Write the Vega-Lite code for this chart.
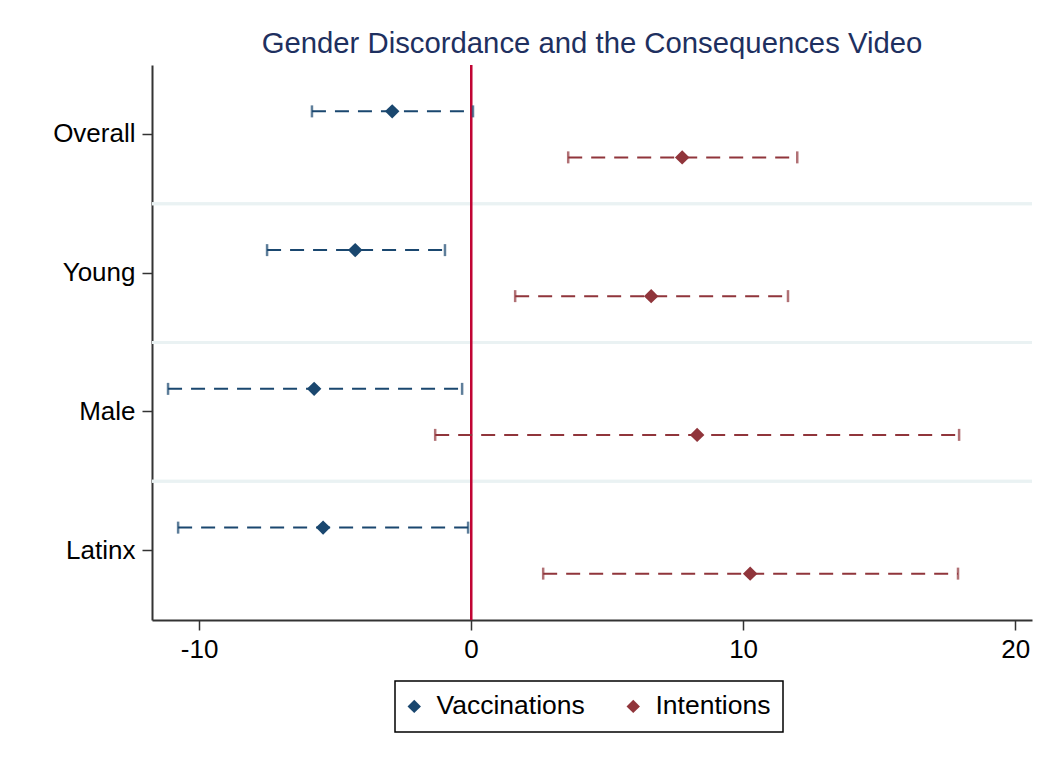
{
  "$schema": "https://vega.github.io/schema/vega-lite/v6.json",
  "autosize": {"type": "none"},
  "padding": {"left": 152, "top": 65, "right": 27, "bottom": 148},
  "width": 880,
  "height": 555,
  "background": "white",
  "title": {
    "text": "Gender Discordance and the Consequences Video",
    "color": "#1e3060",
    "fontSize": 29.3,
    "fontWeight": "normal",
    "font": "Liberation Sans",
    "anchor": "middle",
    "baseline": "bottom",
    "offset": 6,
    "dy": 30
  },
  "config": {
    "view": {"stroke": null},
    "font": "Liberation Sans"
  },
  "data": {
    "values": [
      {"group": "Overall", "series": "Vaccinations", "est": -2.9, "lo": -5.85, "hi": 0.07},
      {"group": "Overall", "series": "Intentions", "est": 7.76, "lo": 3.57, "hi": 11.99},
      {"group": "Young", "series": "Vaccinations", "est": -4.26, "lo": -7.5, "hi": -0.96},
      {"group": "Young", "series": "Intentions", "est": 6.62, "lo": 1.62, "hi": 11.65},
      {"group": "Male", "series": "Vaccinations", "est": -5.77, "lo": -11.14, "hi": -0.33},
      {"group": "Male", "series": "Intentions", "est": 8.31, "lo": -1.32, "hi": 17.94},
      {"group": "Latinx", "series": "Vaccinations", "est": -5.44, "lo": -10.77, "hi": -0.11},
      {"group": "Latinx", "series": "Intentions", "est": 10.26, "lo": 2.65, "hi": 17.9}
    ]
  },
  "encoding": {
    "y": {
      "field": "group",
      "type": "nominal",
      "sort": ["Overall", "Young", "Male", "Latinx"],
      "scale": {"paddingInner": 0, "paddingOuter": 0},
      "axis": {
        "title": null,
        "labelFontSize": 26,
        "labelColor": "black",
        "labelPadding": 7,
        "tickSize": 10,
        "tickColor": "#333333",
        "tickWidth": 1.5,
        "domainColor": "#333333",
        "domainWidth": 2,
        "grid": false
      }
    }
  },
  "layer": [
    {
      "transform": [{"filter": "datum.group !== 'Overall'"}],
      "mark": {"type": "rule", "color": "#eaf2f3", "strokeWidth": 3},
      "encoding": {
        "y": {"field": "group", "type": "nominal", "sort": ["Overall", "Young", "Male", "Latinx"], "bandPosition": 0}
      }
    },
    {
      "mark": {"type": "rule", "color": "#c10534", "strokeWidth": 2},
      "encoding": {
        "x": {"datum": 0, "type": "quantitative"},
        "y": null
      }
    },
    {
      "mark": {"type": "rule", "strokeWidth": 2, "strokeDash": [14, 9]},
      "encoding": {
        "x": {
          "field": "lo",
          "type": "quantitative",
          "scale": {"domain": [-11.73, 20.62], "nice": false, "zero": false},
          "axis": {
            "title": null,
            "values": [-10, 0, 10, 20],
            "labelExpr": "'' + datum.value",
            "labelFontSize": 26,
            "labelColor": "black",
            "labelPadding": 6,
            "tickSize": 10,
            "tickColor": "#333333",
            "tickWidth": 1.5,
            "domainColor": "#333333",
            "domainWidth": 2,
            "grid": false
          }
        },
        "x2": {"field": "hi"},
        "yOffset": {"field": "series", "type": "nominal", "sort": ["Vaccinations", "Intentions"], "scale": {"paddingOuter": 0.508, "paddingInner": 0}},
        "color": {"field": "series", "type": "nominal"}
      }
    },
    {
      "transform": [{"fold": ["lo", "hi"], "as": ["end", "val"]}],
      "mark": {"type": "tick", "orient": "vertical", "size": 12, "thickness": 2.5},
      "encoding": {
        "x": {"field": "val", "type": "quantitative"},
        "yOffset": {"field": "series", "type": "nominal", "sort": ["Vaccinations", "Intentions"]},
        "color": {"field": "series", "type": "nominal"}
      }
    },
    {
      "mark": {"type": "point", "shape": "diamond", "filled": true, "size": 210, "opacity": 1},
      "encoding": {
        "x": {"field": "est", "type": "quantitative"},
        "yOffset": {"field": "series", "type": "nominal", "sort": ["Vaccinations", "Intentions"]},
        "color": {
          "field": "series",
          "type": "nominal",
          "scale": {"domain": ["Vaccinations", "Intentions"], "range": ["#1a476f", "#90353b"]},
          "legend": {
            "title": null,
            "orient": "none",
            "legendX": 243,
            "legendY": 616,
            "direction": "horizontal",
            "strokeColor": "black",
            "padding": 12,
            "symbolType": "diamond",
            "symbolSize": 180,
            "symbolOffset": -6,
            "symbolStrokeWidth": 0,
            "symbolOpacity": 1,
            "labelFontSize": 26.5,
            "labelColor": "black",
            "labelOffset": 9,
            "columnPadding": 41,
            "encode": {"legend": {"update": {"strokeWidth": {"value": 1.5}}}}
          }
        }
      }
    }
  ]
}
